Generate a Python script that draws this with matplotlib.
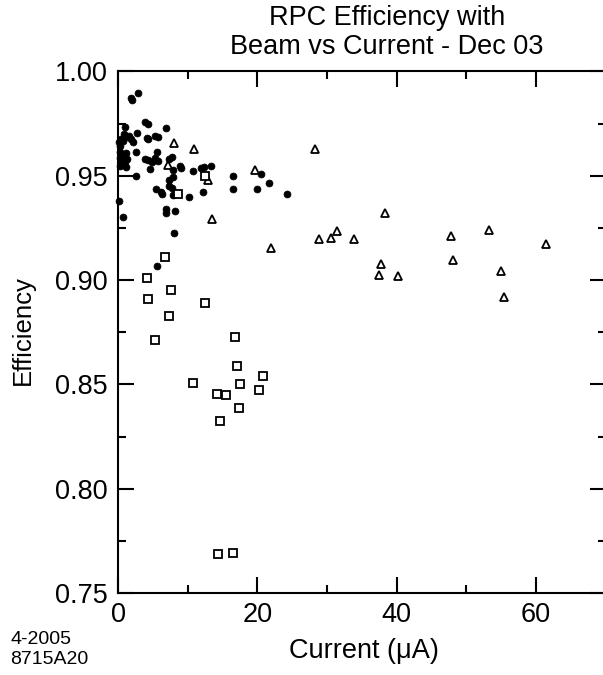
import matplotlib
matplotlib.use("Agg")
import matplotlib.pyplot as plt
from matplotlib.ticker import MultipleLocator, FormatStrFormatter

plt.rcParams['font.family'] = ['Liberation Sans', 'DejaVu Sans']

# Filled circles
circ_x = [1.82, 2.0, 2.87, 3.88, 4.26, 1.0, 6.89, 2.68, 5.31, 5.79, 4.12, 4.35,
          0.43, 0.72, 0.2, 1.15, 1.54, 1.87, 2.15, 0.29, 0.86, 2.58, 5.56,
          0.22, 0.57, 0.86, 0.29, 1.15, 0.43, 0.72, 0.22, 1.15, 1.29, 1.0,
          3.88, 4.35, 4.84, 5.31, 5.79, 7.37, 7.71, 8.9, 9.05, 4.59, 7.94,
          10.81, 11.87, 12.35, 13.31, 2.58, 7.94, 7.37, 16.55, 20.49, 21.64,
          5.46, 6.17, 6.32, 7.37, 7.71, 7.85, 10.24, 12.25, 16.55, 19.91, 24.22,
          0.19, 6.85, 6.89, 8.18, 0.67, 8.08, 5.64]
circ_y = [0.9871, 0.9863, 0.9898, 0.9756, 0.9748, 0.9735, 0.9727, 0.9703, 0.9690, 0.9684, 0.9679, 0.9674,
          0.9676, 0.9666, 0.9662, 0.9686, 0.9690, 0.9676, 0.9662, 0.9642, 0.9700, 0.9615, 0.9612,
          0.9614, 0.9604, 0.9594, 0.9585, 0.9609, 0.9570, 0.9556, 0.9547, 0.9542, 0.9580, 0.9566,
          0.9580, 0.9575, 0.9566, 0.9585, 0.9570, 0.9580, 0.9588, 0.9547, 0.9538, 0.9531, 0.9527,
          0.9524, 0.9535, 0.9540, 0.9547, 0.9500, 0.9492, 0.9479, 0.9500, 0.9508, 0.9466,
          0.9435, 0.9423, 0.9411, 0.9451, 0.9440, 0.9407, 0.9399, 0.9422, 0.9435, 0.9435, 0.9411,
          0.9380, 0.9339, 0.9323, 0.9332, 0.9303, 0.9224, 0.9067]

# Open triangles
tri_x = [8.04, 10.96, 7.22, 12.88, 19.67, 13.54, 21.92, 28.28, 38.33, 31.4, 30.58,
         28.86, 33.88, 37.76, 37.43, 40.2, 47.81, 48.05, 53.27, 55.04, 55.47, 61.5]
tri_y = [0.9658, 0.9627, 0.9551, 0.9479, 0.9527, 0.9291, 0.9152, 0.9628, 0.9323, 0.9235, 0.9203,
         0.9197, 0.9198, 0.9075, 0.9024, 0.9019, 0.9211, 0.9096, 0.9238, 0.9045, 0.8920, 0.9173]

# Open squares
sq_x = [12.49, 8.66, 6.7, 4.21, 7.56, 4.31, 12.49, 7.27, 5.36, 16.8, 17.04, 20.82,
        10.81, 17.52, 20.29, 14.26, 15.51, 17.33, 14.64, 14.36, 16.51]
sq_y = [0.9500, 0.9411, 0.9109, 0.9008, 0.8952, 0.8907, 0.8891, 0.8827, 0.8714, 0.8728, 0.8588, 0.8540,
        0.8505, 0.8500, 0.8473, 0.8452, 0.8449, 0.8386, 0.8326, 0.7687, 0.7693]

W, H = 603, 675
fig = plt.figure(figsize=(W / 100, H / 100), dpi=100)
ax = fig.add_axes([118 / W, 1 - 593 / H, 487.5 / W, (593 - 71.4) / H])

ax.plot(circ_x, circ_y, 'o', ms=5, color='black', mec='black', mew=0.5, clip_on=False, zorder=3)
ax.plot(tri_x, tri_y, '^', ms=6, mfc='white', mec='black', mew=1.3, clip_on=False, zorder=3)
ax.plot(sq_x, sq_y, 's', ms=5.2, mfc='white', mec='black', mew=1.3, clip_on=False, zorder=3)

ax.set_xlim(0, 70)
ax.set_ylim(0.75, 1.00)
ax.xaxis.set_major_locator(MultipleLocator(20))
ax.xaxis.set_minor_locator(MultipleLocator(10))
ax.yaxis.set_major_locator(MultipleLocator(0.05))
ax.yaxis.set_minor_locator(MultipleLocator(0.025))
ax.yaxis.set_major_formatter(FormatStrFormatter('%.2f'))

for s in ax.spines.values():
    s.set_linewidth(1.5)
ax.tick_params(which='both', direction='in', top=True, right=True, width=1.5)
ax.tick_params(which='major', length=11.5)
ax.tick_params(which='minor', length=5.5)
ax.tick_params(axis='x', which='major', labelsize=19.5, pad=6.5)
ax.tick_params(axis='y', which='major', labelsize=19.5, pad=7.5)

fig.text(387 / W, 1 - 18 / H, 'RPC Efficiency with', ha='center', va='center', fontsize=19.5)
fig.text(387 / W, 1 - 47 / H, 'Beam vs Current - Dec 03', ha='center', va='center', fontsize=19.5)
fig.text(364 / W, 1 - 657.5 / H, 'Current (\u03bcA)', ha='center', va='baseline', fontsize=19.5)
fig.text(23 / W, 1 - 330 / H, 'Efficiency', ha='center', va='center', rotation=90, fontsize=18.5)
fig.text(10.5 / W, 1 - 640 / H, '4-2005', ha='left', va='center', fontsize=14)
fig.text(10.5 / W, 1 - 660 / H, '8715A20', ha='left', va='center', fontsize=14)

fig.savefig('out.png', dpi=100)
